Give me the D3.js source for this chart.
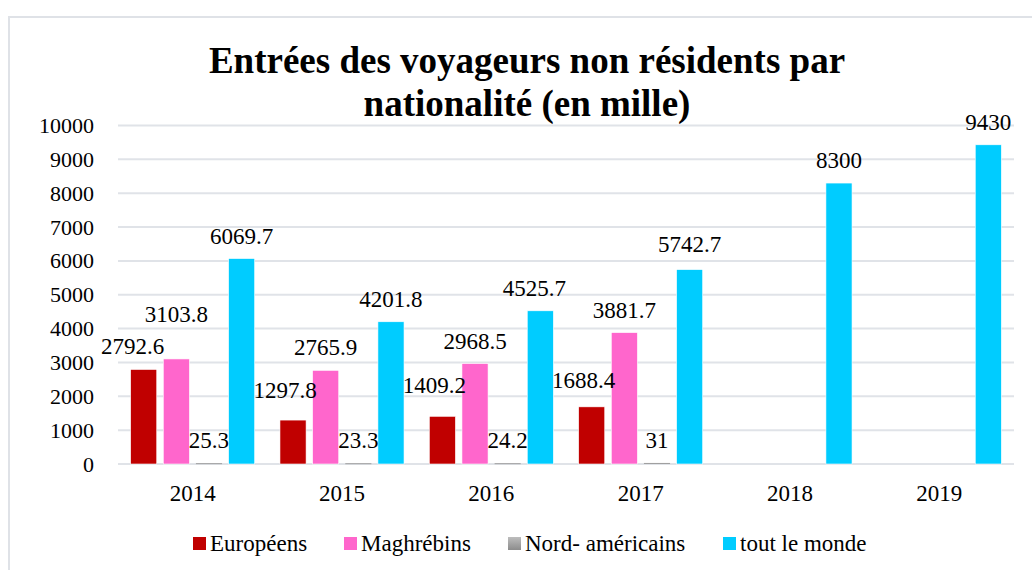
<!DOCTYPE html>
<html>
<head>
<meta charset="utf-8">
<script src="https://cdn.jsdelivr.net/npm/d3@7"></script>
<style>
  body { margin: 0; background: #fff; }
  svg { display: block; }
</style>
</head>
<body>
<svg id="chart" width="1032" height="570"></svg>
<script>
// ----------- DATA ------------
const years = ["2014", "2015", "2016", "2017", "2018", "2019"];
const seriesNames = ["Européens", "Maghrébins", "Nord- américains", "tout le monde"];
const europeens = [2792.6, 1297.8, 1409.2, 1688.4, null, null];
const maghrebins = [3103.8, 2765.9, 2968.5, 3881.7, null, null];
const nordAmericains = [25.3, 23.3, 24.2, 31, null, null];
const toutLeMonde = [6069.7, 4201.8, 4525.7, 5742.7, 8300, 9430];
const yTicks = [0, 1000, 2000, 3000, 4000, 5000, 6000, 7000, 8000, 9000, 10000];
const titleLines = ["Entrées des voyageurs non résidents par", "nationalité (en mille)"];

const colors = ["#c00000", "#ff66cc", "#a6a6a6", "#00ccff"];
const allSeries = [europeens, maghrebins, nordAmericains, toutLeMonde];
const FONT = "'Liberation Serif', 'Times New Roman', serif";

// labels that were moved by hand in the original chart (series-year -> [dx, dy])
const labelNudge = {
    "0-2014": [-11, 0],
    "1-2014": [0, -22],
    "0-2015": [-8, -7],
    "0-2016": [-8, -8],
    "0-2017": [-8, -4],
    "3-2016": [-6, 0],
    "3-2017": [0, -3]
};

// ----------- SETUP ------------
const svg = d3.select("#chart");
const plot = { left: 118, right: 1014, top: 125.5, bottom: 464 };

// gradient for the grey series
const defs = svg.append("defs");
const grad = defs.append("linearGradient")
    .attr("id", "greyGrad")
    .attr("x1", 0).attr("y1", 0).attr("x2", 0).attr("y2", 1);
grad.append("stop").attr("offset", "0%").attr("stop-color", "#bdbdbd");
grad.append("stop").attr("offset", "100%").attr("stop-color", "#8c8c8c");
const fillFor = (i) => i === 2 ? "url(#greyGrad)" : colors[i];

// outer chart border (runs off the picture on right and bottom)
svg.append("rect")
    .attr("x", 9).attr("y", 17)
    .attr("width", 1060).attr("height", 600)
    .attr("fill", "none")
    .attr("stroke", "#dfe2e7")
    .attr("stroke-width", 2);

// title
svg.append("g")
    .selectAll("text")
    .data(titleLines)
    .join("text")
    .attr("x", 527)
    .attr("y", (d, i) => 73 + i * 43)
    .attr("text-anchor", "middle")
    .attr("font-size", 37)
    .attr("font-weight", "bold")
    .style("font-family", FONT)
    .attr("fill", "#000")
    .text(d => d);

// ----------- SCALES ------------
const x = d3.scaleBand()
    .domain(years)
    .range([plot.left, plot.right])
    .paddingInner(0)
    .paddingOuter(0);

const xInner = d3.scaleBand()
    .domain(d3.range(seriesNames.length))
    .range([-65.3, 65.3])
    .paddingInner(0.2)
    .paddingOuter(0.1);

const y = d3.scaleLinear()
    .domain([0, 10000])
    .range([plot.bottom, plot.top]);

// gridlines
svg.append("g")
    .selectAll("line")
    .data(yTicks)
    .join("line")
    .attr("x1", plot.left).attr("x2", plot.right)
    .attr("y1", d => y(d)).attr("y2", d => y(d))
    .attr("stroke", "#e0e3e8")
    .attr("stroke-width", 2);

// y axis labels
const yAxis = svg.append("g")
    .attr("transform", `translate(${plot.left - 24},0)`)
    .call(d3.axisLeft(y).tickValues(yTicks).tickSize(0).tickPadding(0).tickFormat(d3.format("d")));
yAxis.select(".domain").remove();
yAxis.selectAll("text")
    .attr("font-size", 22)
    .style("font-family", FONT)
    .attr("fill", "#000");

// x axis labels
const xAxis = svg.append("g")
    .attr("transform", `translate(0,${plot.bottom + 13})`)
    .call(d3.axisBottom(x).tickSize(0).tickPadding(8));
xAxis.select(".domain").remove();
xAxis.selectAll("text")
    .attr("font-size", 23)
    .style("font-family", FONT)
    .attr("fill", "#000");

// ----------- BARS ------------
const barData = [];
allSeries.forEach((vals, si) => {
    vals.forEach((v, yi) => {
        if (v !== null) barData.push({ year: years[yi], series: si, value: v });
    });
});

const barX = d => x(d.year) + x.bandwidth() / 2 + xInner(d.series);

svg.append("g")
    .selectAll("rect")
    .data(barData)
    .join("rect")
    .attr("x", barX)
    .attr("y", d => y(d.value))
    .attr("width", xInner.bandwidth())
    .attr("height", d => Math.max(1, y(0) - y(d.value)))
    .attr("fill", d => d.series === 2 ? "#a0a0a0" : fillFor(d.series))
    .attr("stroke", d => d.series === 2 ? "none" : "#fff")
    .attr("stroke-width", 0.6);

// value labels
const nudge = d => labelNudge[d.series + "-" + d.year] || [0, 0];
svg.append("g")
    .selectAll("text")
    .data(barData)
    .join("text")
    .attr("x", d => barX(d) + xInner.bandwidth() / 2 + nudge(d)[0])
    .attr("y", d => y(d.value) - 15 + nudge(d)[1])
    .attr("text-anchor", "middle")
    .attr("font-size", 23)
    .style("font-family", FONT)
    .attr("fill", "#000")
    .text(d => d.value);

// ----------- LEGEND ------------
const legendX = [193, 344, 508, 723];
const legend = svg.append("g")
    .selectAll("g")
    .data(seriesNames)
    .join("g")
    .attr("transform", (d, i) => `translate(${legendX[i]},544)`);
legend.append("rect")
    .attr("x", 0).attr("y", -7)
    .attr("width", 13).attr("height", 13)
    .attr("fill", (d, i) => fillFor(i));
legend.append("text")
    .attr("x", 17)
    .attr("y", 7)
    .attr("font-size", 23)
    .style("font-family", FONT)
    .attr("fill", "#000")
    .text(d => d);
</script>
</body>
</html>
